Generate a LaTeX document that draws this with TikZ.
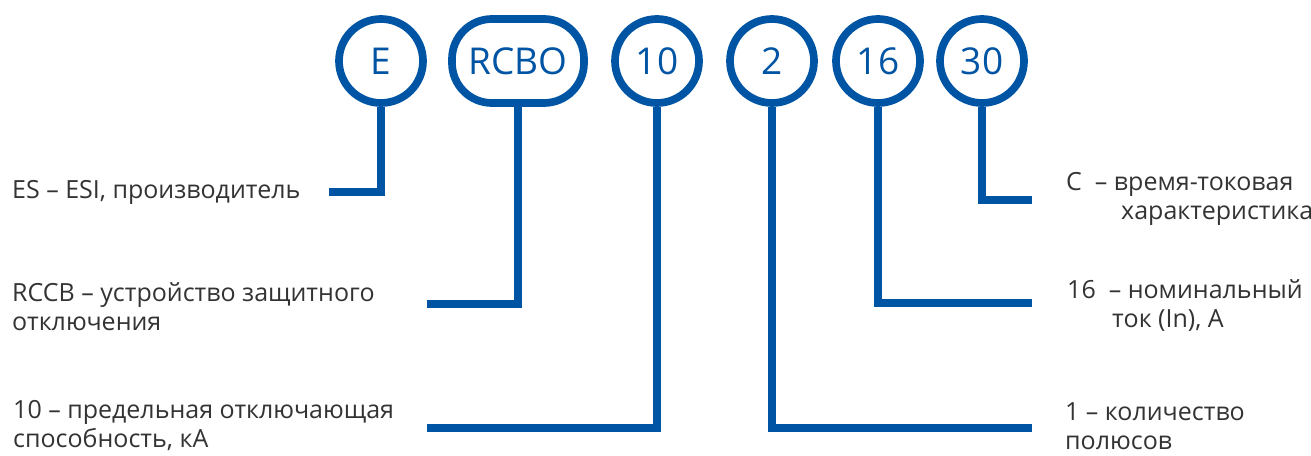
\documentclass[tikz,border=0pt]{standalone}
\usepackage{fontspec}
\setmainfont{Open Sans}
\usetikzlibrary{positioning}
\definecolor{esblue}{RGB}{0,84,164}
\definecolor{estext}{RGB}{51,51,51}
\tikzset{
  mark circle/.style={circle,draw=esblue,line width=7.7pt,minimum size=84pt,inner sep=0pt,text=esblue,font=\fontsize{37}{40}\selectfont},
  mark box/.style={rectangle,rounded corners=40pt,draw=esblue,line width=7.7pt,minimum width=132pt,minimum height=84pt,inner sep=0pt,text=esblue,font=\fontsize{37}{40}\selectfont},
  lead/.style={draw=esblue,line width=7.7pt},
  legend/.style={inner sep=0pt,anchor=west,align=left,text=estext,font=\fontsize{25}{29}\selectfont}
}

\begin{document}
\begin{tikzpicture}[x=1pt,y=-1pt]
\useasboundingbox (0,0) rectangle (1311,455);
\node[mark circle] (nE) at (381,61) {E};
\node[mark box] (nRCBO) at (518,61) {RCBO};
\foreach \lbl/\x in {10/657,2/772,16/878,30/982}
  \node[mark circle] (n\lbl) at (\x,61) {\lbl};

\coordinate (eE) at (329,192);
\coordinate (eRCBO) at (427,304);
\coordinate (e10) at (427,428);
\coordinate (e2) at (1032,428);
\coordinate (e16) at (1032,303);
\coordinate (e30) at (1032,200);

\draw[lead] (nE.south) |- (eE);
\draw[lead] (nRCBO.south) |- (eRCBO);
\draw[lead] (n10.south) |- (e10);
\draw[lead] (n2.south) |- (e2);
\draw[lead] (n16.south) |- (e16);
\draw[lead] (n30.south) |- (e30);

\node[legend] (lE) at (12,192) {ES – ESI, производитель};
\node[legend] (lRCBO) at (12,307) {RCCB – устройство защитного\\отключения};
\node[legend] (l10) at (13,426) {10 – предельная отключающая\\способность, кА};
\node[legend] (l30) at (1066,199) {C\ \ – время-токовая\\\hspace*{55pt}характеристика};
\node[legend] (l16) at (1067,306) {16\ \ – номинальный\\\hspace*{45pt}ток (In), А};
\node[legend] (l2) at (1065,426) {1 – количество\\полюсов};
\end{tikzpicture}
\end{document}
